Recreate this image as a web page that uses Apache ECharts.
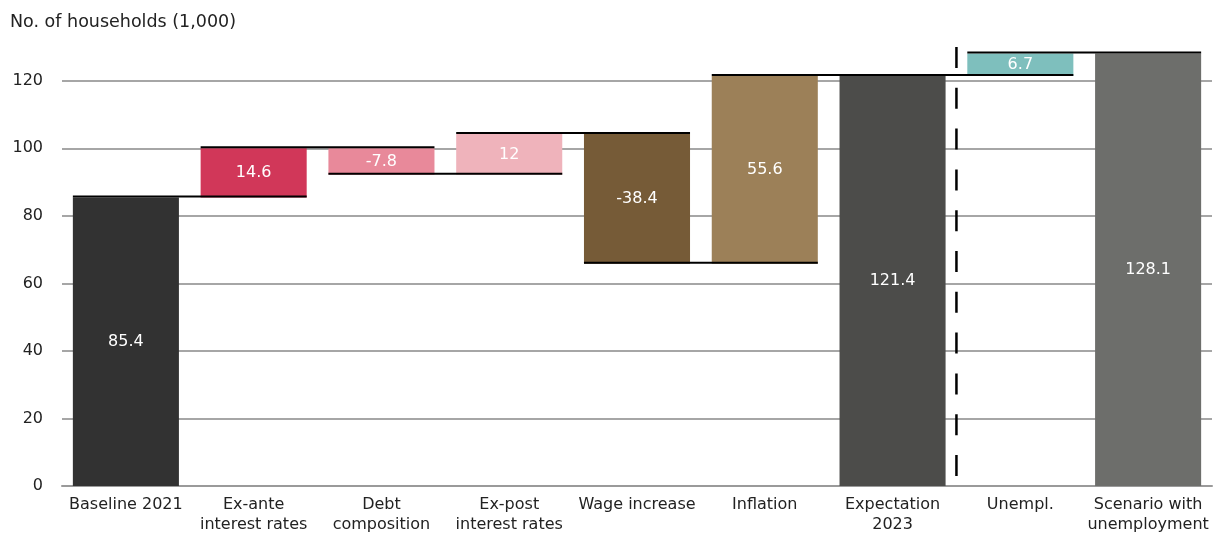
<!DOCTYPE html>
<html>
<head>
<meta charset="utf-8">
<script src="https://cdn.jsdelivr.net/npm/echarts@6/dist/echarts.min.js"></script>
<style>
  html, body { margin: 0; padding: 0; background: #fff; }
  #chart { width: 1218px; height: 535px; }
</style>
</head>
<body>
<div id="chart"></div>
<script>
const categories = [
  "Baseline 2021",
  "Ex-ante\ninterest rates",
  "Debt\ncomposition",
  "Ex-post\ninterest rates",
  "Wage increase",
  "Inflation",
  "Expectation\n2023",
  "Unempl.",
  "Scenario with\nunemployment",
];
const changes = [85.4, 14.6, -7.8, 12, -38.4, 55.6, 121.4, 6.7, 128.1];
const isTotal = [true, false, false, false, false, false, true, false, true];
const barColors = [
  "#323232", "#d13759", "#e8899a", "#efb3bb", "#765b37",
  "#9c8058", "#4c4c4a", "#7ebfbd", "#6d6e6b",
];
const yTicks = { min: 0, max: 130, interval: 20 };
const dividerAfter = 6; // dashed line after "Expectation 2023"

// waterfall: transparent base + visible segment, and the running level after each bar
const bases = [];
const heights = [];
const levels = [];
let running = 0;
changes.forEach((v, i) => {
  if (isTotal[i]) {
    bases.push(0);
    heights.push(v);
    running = v;
  } else if (v >= 0) {
    bases.push(running);
    heights.push(v);
    running += v;
  } else {
    bases.push(running + v);
    heights.push(-v);
    running += v;
  }
  levels.push(Math.round(running * 10) / 10);
});

const BAR_RATIO = 0.83;
const connectors = levels.slice(0, -1).map((lv, i) => [i, lv]);

const chart = echarts.init(document.getElementById("chart"));
const FONT = "DejaVu Sans";

chart.setOption({
  animation: false,
  textStyle: { fontFamily: FONT },
  title: {
    text: "No. of households (1,000)",
    left: 5,
    top: 8,
    textStyle: { fontFamily: FONT, fontSize: 17.5, fontWeight: "normal", color: "#222" },
  },
  grid: { left: 62, right: 6, top: 47, bottom: 49 },
  xAxis: {
    type: "category",
    data: categories,
    axisLine: { lineStyle: { color: "#9a9a9a", width: 2 } },
    axisTick: { alignWithLabel: true, length: 7, lineStyle: { color: "#9a9a9a", width: 2 } },
    axisLabel: {
      color: "#222",
      fontSize: 16,
      fontFamily: FONT,
      margin: 9,
      lineHeight: 20,
      interval: 0,
    },
  },
  yAxis: {
    type: "value",
    min: yTicks.min,
    max: yTicks.max,
    interval: yTicks.interval,
    axisLine: { show: false },
    axisTick: { show: false },
    axisLabel: { color: "#222", fontSize: 16, fontFamily: FONT, margin: 19, showMaxLabel: false },
    splitLine: { showMaxLine: false, lineStyle: { color: "#a6a6a6", width: 2 } },
  },
  series: [
    {
      type: "bar",
      stack: "wf",
      data: bases,
      itemStyle: { color: "transparent" },
      emphasis: { disabled: true },
      barCategoryGap: "17%",
      silent: true,
    },
    {
      type: "bar",
      stack: "wf",
      data: heights.map((h, i) => ({ value: h, itemStyle: { color: barColors[i] } })),
      barCategoryGap: "17%",
      label: {
        show: true,
        position: "inside",
        color: "#fff",
        fontSize: 16,
        fontFamily: FONT,
        formatter: (p) => String(changes[p.dataIndex]),
      },
    },
    {
      type: "custom",
      z: 5,
      silent: true,
      data: connectors,
      renderItem: (params, api) => {
        const i = api.value(0);
        const lv = api.value(1);
        const a = api.coord([i, lv]);
        const b = api.coord([i + 1, lv]);
        const bw = api.size([1, 0])[0] * BAR_RATIO;
        return {
          type: "line",
          shape: { x1: a[0] - bw / 2, y1: a[1] - 1, x2: b[0] + bw / 2, y2: b[1] - 1 },
          style: { stroke: "#000", lineWidth: 2 },
        };
      },
    },
    {
      type: "custom",
      z: 6,
      silent: true,
      data: [[dividerAfter, yTicks.min]],
      renderItem: (params, api) => {
        const i = api.value(0);
        const bottom = api.coord([i, yTicks.min]);
        const top = api.coord([i, yTicks.max]);
        const x = bottom[0] + api.size([1, 0])[0] / 2;
        return {
          type: "line",
          shape: { x1: x, y1: top[1], x2: x, y2: bottom[1] },
          style: { stroke: "#000", lineWidth: 2.5, lineDash: [21, 19.8] },
        };
      },
    },
  ],
});
</script>
</body>
</html>
